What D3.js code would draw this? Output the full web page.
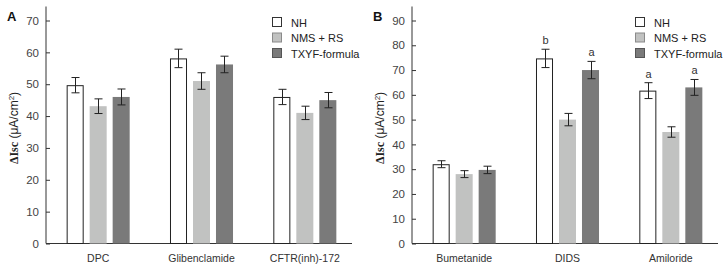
<!DOCTYPE html>
<html><head><meta charset="utf-8">
<script src="https://cdn.jsdelivr.net/npm/d3@7"></script>
<style>
body{margin:0;background:#fff;}
svg{display:block;font-family:"Liberation Sans",Arial,sans-serif;}
</style></head>
<body>
<svg id="chart" width="726" height="270"></svg>
<script>
// ---- data ----
const series = ["NH", "NMS + RS", "TXYF-formula"];
const categoriesA = ["DPC", "Glibenclamide", "CFTR(inh)-172"];
const valuesA = { // per series, per category
  "NH":           [49.7, 58.1, 46.0],
  "NMS + RS":     [43.1, 51.0, 41.0],
  "TXYF-formula": [46.0, 56.2, 45.0]
};
const errorsA = {
  "NH":           [2.4, 2.9, 2.4],
  "NMS + RS":     [2.3, 2.6, 2.1],
  "TXYF-formula": [2.5, 2.6, 2.4]
};
const lettersA = { "NH": ["", "", ""], "NMS + RS": ["", "", ""], "TXYF-formula": ["", "", ""] };
const ticksA = [0, 10, 20, 30, 40, 50, 60, 70];

const categoriesB = ["Bumetanide", "DIDS", "Amiloride"];
const valuesB = {
  "NH":           [32.0, 74.7, 61.7],
  "NMS + RS":     [28.0, 50.0, 45.0],
  "TXYF-formula": [29.7, 70.0, 63.0]
};
const errorsB = {
  "NH":           [1.4, 3.7, 3.2],
  "NMS + RS":     [1.4, 2.5, 2.1],
  "TXYF-formula": [1.5, 3.5, 3.2]
};
const lettersB = { "NH": ["", "b", "a"], "NMS + RS": ["", "", ""], "TXYF-formula": ["", "a", "a"] };
const ticksB = [0, 10, 20, 30, 40, 50, 60, 70, 80, 90];

const fills = { "NH": "#ffffff", "NMS + RS": "#c1c2c1", "TXYF-formula": "#7a7a7a" };
const legendStroke = { "NH": "#333", "NMS + RS": "#8a8a8a", "TXYF-formula": "#555" };

const svg = d3.select("#chart");

function panel(opt) {
  const g = svg.append("g");
  const y = d3.scaleLinear().domain([0, opt.yMax]).range([243.5, 20.5]);
  const x0 = d3.scaleBand().domain(opt.categories).range([opt.ax + 0.5, opt.ax + 310.5]);
  const x1 = d3.scaleBand().domain(series).range([-34.5, 34.5]).paddingInner(0.26).paddingOuter(0.13);

  // y axis
  const yAxis = d3.axisLeft(y).tickValues(opt.ticks).tickSizeInner(-4).tickSizeOuter(0).tickPadding(7);
  const ya = g.append("g").attr("transform", `translate(${opt.ax},0)`).call(yAxis);
  ya.select(".domain").remove();
  ya.selectAll(".tick line").attr("stroke", "#333");
  ya.selectAll(".tick text").attr("fill", "#444").style("font-size", "11.5px").style("font-family", "Liberation Sans, Arial, sans-serif");
  g.append("line").attr("x1", opt.ax).attr("x2", opt.ax).attr("y1", 6.5).attr("y2", 243.5).attr("stroke", "#333").attr("stroke-width", 1);
  // x axis
  g.append("line").attr("x1", opt.ax).attr("x2", opt.ax + opt.xLen).attr("y1", 243.5).attr("y2", 243.5).attr("stroke", "#333");
  g.selectAll(".xlab").data(opt.categories).enter().append("text")
    .attr("x", d => x0(d) + x0.bandwidth() / 2).attr("y", 261.5)
    .attr("text-anchor", "middle").attr("fill", "#333").style("font-size", "10.5px").text(d => d);

  // bars
  series.forEach(s => {
    opt.categories.forEach((c, i) => {
      const v = opt.values[s][i], e = opt.errors[s][i];
      const cx = x0(c) + x0.bandwidth() / 2 + x1(s);
      const w = x1.bandwidth();
      const r = g.append("rect").attr("x", cx).attr("width", w)
        .attr("y", y(v)).attr("height", y(0) - y(v)).attr("fill", fills[s]);
      if (s === "NH") r.attr("x", cx + 0.5).attr("width", w - 1).attr("y", y(v) + 0.5).attr("height", y(0) - y(v) - 0.5).attr("stroke", "#222").attr("stroke-width", 1);
      const mx = Math.round(cx + w / 2) + 0.5;
      const eg = g.append("g").attr("stroke", "#222").attr("stroke-width", 1);
      eg.append("line").attr("x1", mx).attr("x2", mx).attr("y1", y(v + e)).attr("y2", y(v - e));
      eg.append("line").attr("x1", mx - 4).attr("x2", mx + 4).attr("y1", y(v + e)).attr("y2", y(v + e));
      eg.append("line").attr("x1", mx - 4).attr("x2", mx + 4).attr("y1", y(v - e)).attr("y2", y(v - e));
      const L = opt.letters[s][i];
      if (L) g.append("text").attr("x", mx).attr("y", y(v + e) - 5).attr("text-anchor", "middle")
        .attr("fill", "#333").style("font-size", "11px").text(L);
    });
  });

  // legend
  series.forEach((s, i) => {
    const ly = 17 + i * 15.5;
    g.append("rect").attr("x", opt.lx + 0.5).attr("y", ly + 0.5).attr("width", 9).attr("height", 9)
      .attr("fill", fills[s]).attr("stroke", legendStroke[s]);
    g.append("text").attr("x", opt.lx + 19).attr("y", ly + 9.5).attr("fill", "#222")
      .style("font-size", "11px").text(s);
  });

  // panel label
  g.append("text").attr("x", opt.ax - 39).attr("y", 20.5).style("font-size", "13px").style("font-weight", "bold").attr("fill", "#111").text(opt.label);

  // y title
  const t = g.append("text").attr("transform", `translate(${opt.ax - 28},128) rotate(-90)`)
    .attr("text-anchor", "middle").attr("fill", "#222").style("font-size", "12px");
  t.append("tspan").style("font-weight", "bold").style("font-family", "Liberation Serif, serif").text("\u0394Isc");
  t.append("tspan").text(" (\u03bcA/cm");
  t.append("tspan").attr("dy", -4).style("font-size", "8px").text("2");
  t.append("tspan").attr("dy", 4).text(")");
}

panel({ label: "A", ax: 46, yMax: 70, ticks: ticksA, categories: categoriesA, values: valuesA, errors: errorsA, letters: lettersA, xLen: 306, lx: 272 });
panel({ label: "B", ax: 412, yMax: 90, ticks: ticksB, categories: categoriesB, values: valuesB, errors: errorsB, letters: lettersB, xLen: 306, lx: 635 });
</script>
</body></html>
